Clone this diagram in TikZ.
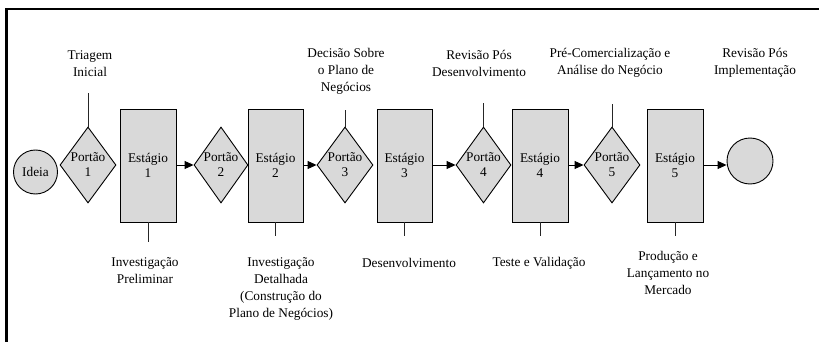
\documentclass[tikz,border=0pt]{standalone}
\usepackage{fontspec}
\setmainfont{Liberation Serif}
\usetikzlibrary{shapes.geometric,arrows.meta}
\definecolor{boxgray}{RGB}{217,217,217}
\begin{document}
\begin{tikzpicture}[x=1pt,y=-1pt,
  every node/.style={font=\fontsize{13.3}{17}\selectfont},
  stagebox/.style={draw=black,line width=0.9pt,fill=boxgray,minimum width=56pt,minimum height=113pt,inner sep=0pt,align=center,font=\fontsize{13.3}{15.5}\selectfont},
  gatebox/.style={draw=black,line width=0.9pt,fill=boxgray,diamond,minimum width=56pt,minimum height=76pt,inner sep=0pt},
  gatetext/.style={align=center,font=\fontsize{13.3}{15}\selectfont,inner sep=0pt},
  endcircle/.style={draw=black,line width=0.9pt,fill=boxgray,circle,inner sep=0pt},
  lbl/.style={align=center,inner sep=0pt},
  tick/.style={line width=0.9pt,draw=black!85},
  flow/.style={line width=0.9pt,-{Triangle[length=9pt,width=8pt]}}
]
\useasboundingbox (0,0) rectangle (819,342);
% frame
\draw[line width=2.6pt] (6.5,342) -- (6.5,9) -- (819,9);

% main chain
\node[endcircle,minimum size=44pt] (ideia) at (35.5,172) {Ideia};
\node[gatebox] (p1) at (88,165) {};
\node[gatetext] (p1t) at (p1.center) {Portão\\1};
\node[stagebox] (e1) at (148,165.5) {Estágio\\1};
\node[gatebox,minimum width=54pt] (p2) at (221,165) {};
\node[gatetext] (p2t) at (p2.center) {Portão\\2};
\node[stagebox,minimum width=55pt] (e2) at (275.5,165.5) {Estágio\\2};
\node[gatebox] (p3) at (345,165) {};
\node[gatetext] (p3t) at (p3.center) {Portão\\3};
\node[stagebox,minimum width=55pt] (e3) at (404.5,165.5) {Estágio\\3};
\node[gatebox,minimum width=55pt] (p4) at (483.5,165) {};
\node[gatetext] (p4t) at (p4.center) {Portão\\4};
\node[stagebox] (e4) at (540,165.5) {Estágio\\4};
\node[gatebox] (p5) at (612,165) {};
\node[gatetext] (p5t) at (p5.center) {Portão\\5};
\node[stagebox] (e5) at (675,165.5) {Estágio\\5};
\node[endcircle,minimum size=46pt] (fim) at (750,161) {};

% arrows
\draw[flow] (e1.east |- 0,165) -- (p2.west);
\draw[flow] (e2.east |- 0,165) -- (p3.west);
\draw[flow] (e3.east |- 0,165) -- (p4.west);
\draw[flow] (e4.east |- 0,165) -- (p5.west);
\draw[flow] (e5.east |- 0,165) -- (fim.west |- 0,165);

% top ticks and labels
\coordinate (t1) at (88,93);
\coordinate (t3) at (345,110);
\coordinate (t4) at (483.5,103);
\coordinate (t5) at (612,104);
\draw[tick] (p1.north) -- (t1);
\draw[tick] (p3.north) -- (t3);
\draw[tick] (p4.north) -- (t4);
\draw[tick] (p5.north) -- (t5);
\node[lbl] (l1) at (90,63.5) {Triagem\\Inicial};
\node[lbl] (l3) at (346,71) {Decisão Sobre\\o Plano de\\Negócios};
\node[lbl] (l4) at (479,63) {Revisão Pós\\Desenvolvimento};
\node[lbl] (l5) at (610,63) {Pré-Comercialização e\\Análise do Negócio};
\node[lbl] (l6) at (755,63) {Revisão Pós\\Implementação};

% bottom ticks and labels
\coordinate (b1) at (148,242);
\coordinate (b2) at (275.5,236);
\coordinate (b3) at (404.5,236);
\coordinate (b4) at (540,236);
\coordinate (b5) at (675,236);
\draw[tick] (e1.south) -- (b1);
\draw[tick] (e2.south) -- (b2);
\draw[tick] (e3.south) -- (b3);
\draw[tick] (e4.south) -- (b4);
\draw[tick] (e5.south) -- (b5);
\node[lbl] (m1) at (145,271) {Investigação\\Preliminar};
\node[lbl] (m2) at (281,289) {Investigação\\Detalhada\\(Construção do\\Plano de Negócios)};
\node[lbl] (m3) at (409,263) {Desenvolvimento};
\node[lbl] (m4) at (539,263) {Teste e Validação};
\node[lbl] (m5) at (668,272.5) {Produção e\\Lançamento no\\Mercado};
\end{tikzpicture}
\end{document}
